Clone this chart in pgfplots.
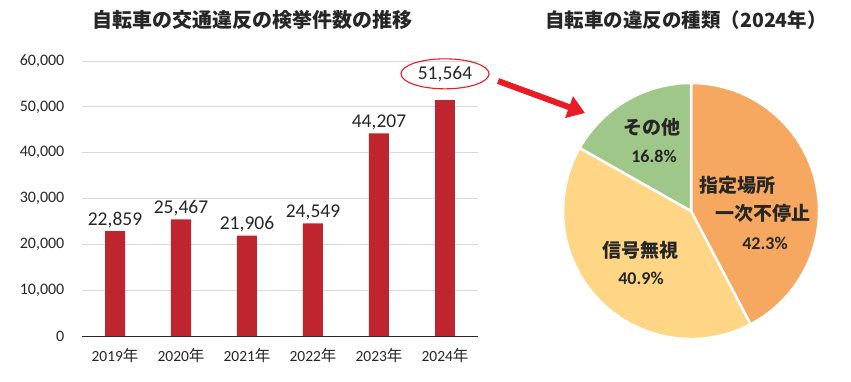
\documentclass[border=0pt]{standalone}
\usepackage{pgfplots}
\pgfplotsset{compat=1.18}
\usepackage{fontspec}
\setmainfont{Carlito}
\newfontfamily\cjk{Noto Sans CJK JP}
\usetikzlibrary{arrows.meta}
\definecolor{barred}{RGB}{190,37,46}
\definecolor{arrred}{RGB}{232,28,36}
\definecolor{txt}{RGB}{38,38,38}
\definecolor{pOrange}{RGB}{247,168,96}
\definecolor{pYellow}{RGB}{254,214,134}
\definecolor{pGreen}{RGB}{160,199,138}
\begin{document}
\begin{tikzpicture}
\path (0pt,0pt) rectangle (851pt,381pt);
% titles
\node[txt] at (252pt,361pt) {\cjk\bfseries\fontsize{20}{22}\selectfont 自転車の交通違反の検挙件数の推移};
\node[txt] at (686pt,361pt) {\cjk\bfseries\fontsize{19.5}{22}\selectfont 自転車の違反の種類（2024年）};
% bar chart
\begin{axis}[
  at={(82pt,45pt)}, anchor=south west,
  scale only axis, width=396pt, height=275pt,
  clip=false,
  xmin=-0.5, xmax=5.5, ymin=0, ymax=60000,
  ytick={0,10000,20000,30000,40000,50000,60000},
  scaled y ticks=false,
  xtick={0,1,2,3,4,5},
  xticklabels={2019{\cjk 年},2020{\cjk 年},2021{\cjk 年},2022{\cjk 年},2023{\cjk 年},2024{\cjk 年}},
  axis x line=bottom, axis y line=left,
  x axis line style={-, black!85, line width=0.9pt},
  y axis line style={draw=none},
  tick style={draw=none},
  ymajorgrids, grid style={color=black!15, line width=0.7pt},
  /pgf/number format/assume math mode=true,
  /pgf/number format/.cd, 1000 sep={,}, /pgfplots/.cd,
  yticklabel style={font=\fontsize{16}{18}\selectfont, text=txt, xshift=-12pt},
  xticklabel style={font=\fontsize{15.5}{17}\selectfont, text=txt, yshift=-7pt},
  nodes near coords,
  nodes near coords style={font=\fontsize{19.5}{21}\selectfont, text=txt, yshift=0pt},
]
\addplot[ybar, bar width=20pt, fill=barred, draw=none] coordinates {
 (0,22859) (1,25467) (2,21906) (3,24549) (4,44207)};
\addplot[ybar, bar width=20pt, fill=barred, draw=none, nodes near coords=\empty] coordinates {(5,51564)};
\node[text=txt, font=\fontsize{19.5}{21}\selectfont] at (axis cs:5,57200) {51,564};
\draw[arrred, line width=1.1pt] (axis cs:5,57200) ellipse [x radius=44pt, y radius=15pt];
\end{axis}
% arrow
\draw[arrred, line width=6pt, -{Triangle[length=17pt,width=22pt]}] (498pt,300pt) -- (585pt,268pt);
% pie
\pgfmathsetmacro\aA{90}
\pgfmathsetmacro\aB{90-42.3*3.6}
\pgfmathsetmacro\aC{\aB-40.9*3.6}
\pgfmathsetmacro\aD{\aC-16.8*3.6}
\pgfmathsetmacro\xA{cos(\aA)}\pgfmathsetmacro\yA{sin(\aA)}
\pgfmathsetmacro\xB{cos(\aB)}\pgfmathsetmacro\yB{sin(\aB)}
\pgfmathsetmacro\xC{cos(\aC)}\pgfmathsetmacro\yC{sin(\aC)}
\begin{axis}[
  at={(691pt,170pt)}, anchor=center,
  scale only axis, width=281.6pt, height=281.6pt,
  xmin=-1.1, xmax=1.1, ymin=-1.1, ymax=1.1,
  hide axis,
]
\fill[pOrange, draw=white, line width=2.5pt] (axis cs:0,0) -- (axis cs:\xA,\yA) arc[start angle=\aA, end angle=\aB, radius=128pt] -- cycle;
\fill[pYellow, draw=white, line width=2.5pt] (axis cs:0,0) -- (axis cs:\xB,\yB) arc[start angle=\aB, end angle=\aC, radius=128pt] -- cycle;
\fill[pGreen, draw=white, line width=2.5pt] (axis cs:0,0) -- (axis cs:\xC,\yC) arc[start angle=\aC, end angle=\aD, radius=128pt] -- cycle;
\end{axis}
% pie labels
\node[txt] at (652pt,254pt) {\cjk\bfseries\fontsize{19}{21}\selectfont その他};
\node[txt] at (654pt,225pt) {\bfseries\fontsize{18}{20}\selectfont 16.8\%};
\node[txt] at (737pt,196pt) {\cjk\bfseries\fontsize{19}{21}\selectfont 指定場所};
\node[txt] at (763pt,168pt) {\cjk\bfseries\fontsize{19}{21}\selectfont 一次不停止};
\node[txt] at (765pt,138pt) {\bfseries\fontsize{18}{20}\selectfont 42.3\%};
\node[txt] at (640pt,131pt) {\cjk\bfseries\fontsize{19}{21}\selectfont 信号無視};
\node[txt] at (641pt,103pt) {\bfseries\fontsize{18}{20}\selectfont 40.9\%};
\end{tikzpicture}
\end{document}
